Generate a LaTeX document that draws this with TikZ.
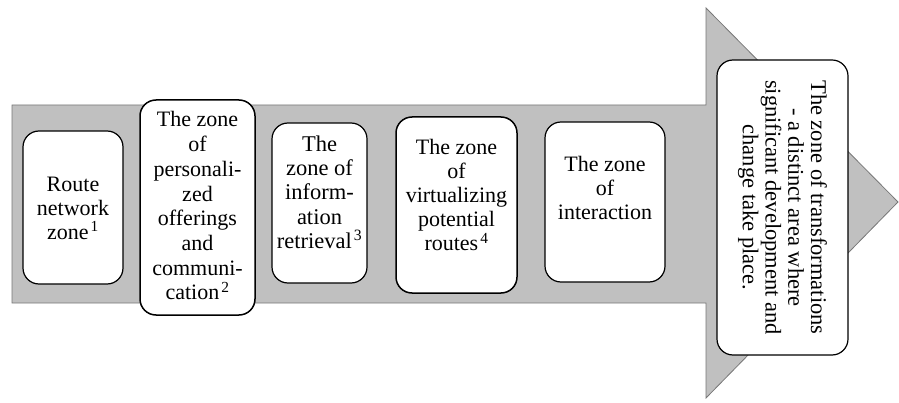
\documentclass[tikz,border=0pt]{standalone}
\usepackage{fontspec}
\setmainfont{Liberation Serif}
\definecolor{arrowgray}{RGB}{192,192,192}
\definecolor{edgegray}{RGB}{120,120,120}
\begin{document}
\begin{tikzpicture}[x=1pt,y=-1pt,
  zonebox/.style={draw=black, line width=1.2pt, fill=white, rounded corners=16pt},
  ztext/.style={align=center, inner sep=0pt, font=\fontsize{22}{24}\selectfont},
  rtext/.style={align=center, inner sep=0pt, rotate=-90, font=\fontsize{22.5}{22.8}\selectfont}]
\useasboundingbox (0,0) rectangle (899,403);
% big arrow
\filldraw[fill=arrowgray, draw=edgegray, line width=0.8pt]
  (12,105) -- (706,105) -- (706,8) -- (898,202) -- (706,398) -- (706,303) -- (12,303) -- cycle;
% boxes
\draw[zonebox] (23,131) rectangle (123,284);
\draw[zonebox, line width=1.5pt] (140,100) rectangle (255,315);
\draw[zonebox] (272,123) rectangle (367,283);
\draw[zonebox, line width=1.5pt] (396,117) rectangle (517,293);
\draw[zonebox] (545,122) rectangle (665,282);
\draw[zonebox] (717,60) rectangle (848,355);
% texts
\node[ztext, anchor=north] (t1) at (73,176.5) {Route\\network\\zone\kern2pt\textsuperscript{1}};
\node[ztext, anchor=north, font=\fontsize{22}{24.7}\selectfont] (t2) at (197.5,111.5) {The zone\\of\\personali-\\zed\\offerings\\and\\communi-\\cation\kern2pt\textsuperscript{2}};
\node[ztext, anchor=north, font=\fontsize{22.5}{24.3}\selectfont] (t3) at (319.5,135.5) {The\\zone of\\inform-\\ation\\retrieval\kern2pt\textsuperscript{3}};
\node[ztext, anchor=north] (t4) at (456.5,139.5) {The zone\\of\\virtualizing\\potential\\routes\kern2pt\textsuperscript{4}};
\node[ztext, anchor=north] (t5) at (605,156.5) {The zone\\of\\interaction};
\node[rtext] (t6) at (782.5,207.5) {The zone of transformations\\- a distinct area where\\significant development and\\change take place.};
\end{tikzpicture}
\end{document}
